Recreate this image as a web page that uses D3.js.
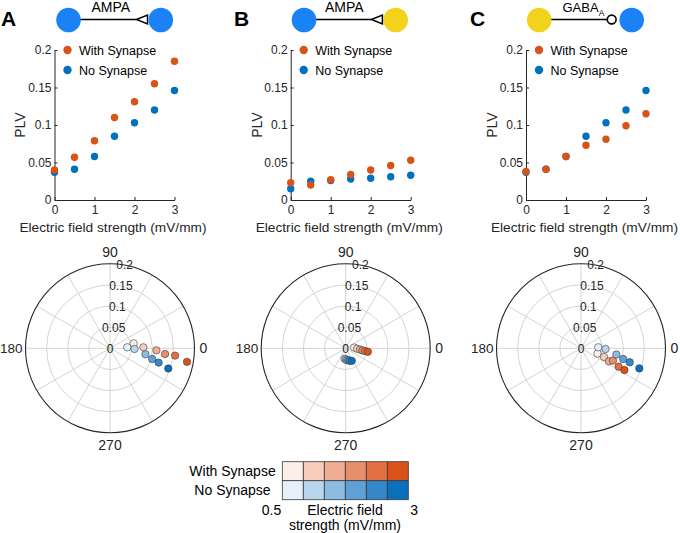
<!DOCTYPE html>
<html><head><meta charset="utf-8">
<script src="https://cdn.jsdelivr.net/npm/d3@7"></script>
<style>
body{margin:0;background:#fff;}
svg{display:block;font-family:"Liberation Sans",Arial,sans-serif;}
</style></head>
<body><svg id="c" width="680" height="533"></svg>
<script>
// ---------- data ----------
const fieldStrength = [0, 0.5, 1, 1.5, 2, 2.5, 3];
const polarStrength = [0.5, 1, 1.5, 2, 2.5, 3];
const panelLabels = ["A", "B", "C"];
const seriesNames = ["With Synapse", "No Synapse"];
const yTicks = [0, 0.05, 0.1, 0.15, 0.2];
const xTicks = [0, 1, 2, 3];
const rTicks = [0.05, 0.1, 0.15, 0.2];
const angleTicks = [0, 30, 60, 90, 120, 150, 180, 210, 240, 270, 300, 330];
const angleLabels = ["0", "90", "180", "270"];

const plvWithA = [0.040, 0.057, 0.079, 0.110, 0.131, 0.155, 0.185];
const plvNoA   = [0.037, 0.041, 0.058, 0.085, 0.103, 0.120, 0.146];
const plvWithB = [0.023, 0.020, 0.027, 0.034, 0.040, 0.046, 0.053];
const plvNoB   = [0.015, 0.025, 0.026, 0.028, 0.029, 0.031, 0.033];
const plvWithC = [0.038, 0.041, 0.058, 0.073, 0.081, 0.099, 0.115];
const plvNoC   = [0.037, 0.041, 0.058, 0.085, 0.103, 0.120, 0.146];

// preferred phase (degrees) for 0.5..3 mV/mm
const phaseWithA = [11.8, 1.7, -2.5, -5.9, -6.4, -10];
const phaseNoA   = [3.4, -1.6, -9.6, -14.3, -16.4, -19.1];
const phaseWithB = [5, -2, -5, -7, -8, -9];
const phaseNoB   = [-96, -90, -84, -78, -72, -64];
const phaseWithC = [-17.7, -20.5, -25, -21, -26, -26.6];
const phaseNoC   = [3.4, -1.6, -10, -14.3, -16, -19];

const orangeLevels = ["#fdeee7", "#f6cdbd", "#f0ad92", "#e98e6a", "#e27043", "#d95319"];
const blueLevels   = ["#e5f0fb", "#bad6ee", "#8dbce2", "#5fa1d5", "#3487c8", "#0a6fbd"];

// ---------- layout ----------
const svg = d3.select("#c");
const ink = "#262626";
const withColor = "#d95319", noColor = "#0072bd";
const axX0 = [54.5, 290.7, 526];
const axW = 120, yTop = 50, yBot = 200;
const polarCx = [110, 345.7, 581], polarCy = 348.3, polarR = 84.5;

const panels = [
  {withV: plvWithA, noV: plvNoA, pWith: phaseWithA, pNo: phaseNoA},
  {withV: plvWithB, noV: plvNoB, pWith: phaseWithB, pNo: phaseNoB},
  {withV: plvWithC, noV: plvNoC, pWith: phaseWithC, pNo: phaseNoC}
];

const orangeScale = d3.scaleOrdinal(polarStrength, orangeLevels);
const blueScale = d3.scaleOrdinal(polarStrength, blueLevels);

// ---------- panel letters ----------
const letterX = [1, 234, 470];
panelLabels.forEach((l, i) => {
  svg.append("text").attr("x", letterX[i]).attr("y", 25.5)
    .attr("font-size", 21).attr("font-weight", "bold").attr("fill", "#000").text(l);
});

// ---------- circuit diagrams ----------
const neuronBlue = "#1a82f5", neuronYellow = "#f2d21b";
function neuron(x, c) {
  svg.append("circle").attr("cx", x).attr("cy", 20).attr("r", 12.3).attr("fill", c);
}
function ampa(x1, xL, xR, colL, colR) {
  const apex = xR - 12.3 - 12;
  svg.append("line").attr("x1", xL).attr("x2", apex).attr("y1", 19.5).attr("y2", 19.5)
    .attr("stroke", "#000").attr("stroke-width", 1.6);
  neuron(xL, colL); neuron(xR, colR);
  svg.append("path").attr("d", `M${apex},19.5 L${apex + 11},15 L${apex + 11},24 Z`)
    .attr("fill", "#fff").attr("stroke", "#000").attr("stroke-width", 1.5);
  svg.append("text").attr("x", x1).attr("y", 12).attr("text-anchor", "middle")
    .attr("font-size", 14).attr("fill", "#000").text("AMPA");
}
ampa(110.7, 68.5, 160.8, neuronBlue, neuronBlue);
ampa(344.2, 304, 395.7, neuronBlue, neuronYellow);
// GABA_A
svg.append("line").attr("x1", 539.2).attr("x2", 607).attr("y1", 19.5).attr("y2", 19.5)
  .attr("stroke", "#000").attr("stroke-width", 1.6);
neuron(539.2, neuronYellow); neuron(631.7, neuronBlue);
svg.append("circle").attr("cx", 611.7).attr("cy", 19.5).attr("r", 4.4)
  .attr("fill", "#fff").attr("stroke", "#000").attr("stroke-width", 1.6);
const gaba = svg.append("text").attr("x", 562.5).attr("y", 12).attr("font-size", 13).attr("fill", "#000");
gaba.append("tspan").text("GABA");
gaba.append("tspan").attr("font-size", 8.5).attr("dy", 3.5).text("A");

// ---------- scatter panels ----------
panels.forEach((p, i) => {
  const x = d3.scaleLinear([0, 3], [axX0[i], axX0[i] + axW]);
  const y = d3.scaleLinear([0, 0.2], [yBot, yTop]);
  const g = svg.append("g");

  const ya = g.append("g").attr("transform", `translate(${axX0[i]},0)`)
    .call(d3.axisLeft(y).tickValues(yTicks).tickFormat(d3.format("~g"))
      .tickSizeInner(-3).tickSizeOuter(0).tickPadding(3));
  const xa = g.append("g").attr("transform", `translate(0,${yBot})`)
    .call(d3.axisBottom(x).tickValues(xTicks).tickFormat(d3.format("~g"))
      .tickSizeInner(-3).tickSizeOuter(0).tickPadding(5));
  [ya, xa].forEach(a => {
    a.select(".domain").attr("stroke", ink).attr("stroke-width", 1);
    a.selectAll(".tick line").attr("stroke", ink);
    a.selectAll(".tick text").attr("fill", ink).attr("font-size", 12)
      .attr("font-family", "Liberation Sans, Arial, sans-serif");
  });

  g.append("text").attr("transform", `translate(${axX0[i] - 34},${(yTop + yBot) / 2}) rotate(-90)`)
    .attr("text-anchor", "middle").attr("dy", "0.35em").attr("font-size", 14).attr("fill", ink).text("PLV");
  g.append("text").attr("x", axX0[i] + axW / 2 - 1.5).attr("y", 232)
    .attr("text-anchor", "middle").attr("font-size", 13.7).attr("fill", ink)
    .text("Electric field strength (mV/mm)");

  g.selectAll(".dn").data(fieldStrength.map((f, k) => [f, p.noV[k]])).join("circle")
    .attr("cx", d => x(d[0])).attr("cy", d => y(d[1])).attr("r", 3.7).attr("fill", noColor);
  g.selectAll(".dw").data(fieldStrength.map((f, k) => [f, p.withV[k]])).join("circle")
    .attr("cx", d => x(d[0])).attr("cy", d => y(d[1])).attr("r", 3.7).attr("fill", withColor);

  // legend
  [withColor, noColor].forEach((c, k) => {
    g.append("circle").attr("cx", axX0[i] + 13).attr("cy", 50 + k * 20).attr("r", 4.2).attr("fill", c);
    g.append("text").attr("x", axX0[i] + 24.5).attr("y", 50 + k * 20).attr("dy", "0.36em")
      .attr("font-size", 12.5).attr("fill", "#000").text(seriesNames[k]);
  });
});

// ---------- polar panels ----------
panels.forEach((p, i) => {
  const cx = polarCx[i], cy = polarCy;
  const r = d3.scaleLinear([0, 0.2], [0, polarR]);
  const g = svg.append("g").attr("transform", `translate(${cx},${cy})`);
  const pt = (v, deg) => [r(v) * Math.cos(deg * Math.PI / 180), -r(v) * Math.sin(deg * Math.PI / 180)];

  g.append("circle").attr("r", polarR).attr("fill", "#fff");
  g.selectAll(".ring").data(rTicks.slice(0, -1)).join("circle")
    .attr("r", d => r(d)).attr("fill", "none").attr("stroke", "#d4d4d4").attr("stroke-width", 1);
  g.selectAll(".spoke").data(angleTicks).join("line")
    .attr("x1", 0).attr("y1", 0)
    .attr("x2", d => pt(0.2, d)[0]).attr("y2", d => pt(0.2, d)[1])
    .attr("stroke", "#d4d4d4").attr("stroke-width", 1);
  g.append("circle").attr("r", polarR).attr("fill", "none").attr("stroke", ink).attr("stroke-width", 1.1);

  // radial tick labels along 80 degrees
  g.selectAll(".rl").data([0].concat(rTicks)).join("text")
    .attr("x", d => pt(d, 80)[0]).attr("y", d => pt(d, 80)[1]).attr("dy", "0.36em")
    .attr("text-anchor", "middle").attr("font-size", 12).attr("fill", ink)
    .text(d => d3.format("~g")(d));

  // angle labels
  angleLabels.forEach(a => {
    const deg = +a;
    const [px, py] = pt(0.2, deg);
    const t = g.append("text").attr("font-size", 14).attr("fill", ink).text(a);
    if (deg === 0) t.attr("x", px + 5).attr("y", py).attr("dy", "0.36em");
    else if (deg === 180) t.attr("x", px - 3).attr("y", py).attr("dy", "0.36em").attr("text-anchor", "end").attr("font-size", 13.5);
    else if (deg === 90) t.attr("x", px).attr("y", py - 11.5).attr("dy", "0.36em").attr("text-anchor", "middle");
    else t.attr("x", px).attr("y", py + 12).attr("dy", "0.36em").attr("text-anchor", "middle");
  });

  const withPts = polarStrength.map((s, k) => ({s, v: p.withV[k + 1], a: p.pWith[k]}));
  const noPts = polarStrength.map((s, k) => ({s, v: p.noV[k + 1], a: p.pNo[k]}));
  g.selectAll(".pw").data(withPts).join("circle")
    .attr("cx", d => pt(d.v, d.a)[0]).attr("cy", d => pt(d.v, d.a)[1]).attr("r", 3.7)
    .attr("fill", d => orangeScale(d.s)).attr("stroke", "#3a3a3a").attr("stroke-width", 0.6);
  g.selectAll(".pn").data(noPts).join("circle")
    .attr("cx", d => pt(d.v, d.a)[0]).attr("cy", d => pt(d.v, d.a)[1]).attr("r", 3.7)
    .attr("fill", d => blueScale(d.s)).attr("stroke", "#3a3a3a").attr("stroke-width", 0.6);
});

// ---------- colour legend ----------
const lgX0 = 282.3, cellW = 21, cellH = 19, lgY0 = 461.7;
const lx = d3.scaleBand(polarStrength, [lgX0, lgX0 + cellW * 6]);
[orangeScale, blueScale].forEach((sc, row) => {
  svg.append("g").selectAll("rect").data(polarStrength).join("rect")
    .attr("x", d => lx(d)).attr("y", lgY0 + row * cellH)
    .attr("width", lx.bandwidth()).attr("height", cellH)
    .attr("fill", d => sc(d)).attr("stroke", "#3a3a3a").attr("stroke-width", 0.8);
  svg.append("text").attr("x", 232.5).attr("y", lgY0 + row * cellH + cellH / 2).attr("dy", "0.36em")
    .attr("text-anchor", "middle").attr("font-size", 14).attr("fill", "#000").text(seriesNames[row]);
});
svg.append("text").attr("x", lgX0 - 1).attr("y", 515).attr("text-anchor", "end")
  .attr("font-size", 14).attr("fill", "#000").text(d3.format("~g")(polarStrength[0]));
svg.append("text").attr("x", lgX0 + cellW * 6 + 2).attr("y", 515)
  .attr("font-size", 14).attr("fill", "#000").text(d3.format("~g")(polarStrength[5]));
svg.append("text").attr("x", 345).attr("y", 515).attr("text-anchor", "middle")
  .attr("font-size", 14).attr("fill", "#000").text("Electric field");
svg.append("text").attr("x", 345).attr("y", 529.5).attr("text-anchor", "middle")
  .attr("font-size", 14).attr("fill", "#000").text("strength (mV/mm)");
</script></body></html>
